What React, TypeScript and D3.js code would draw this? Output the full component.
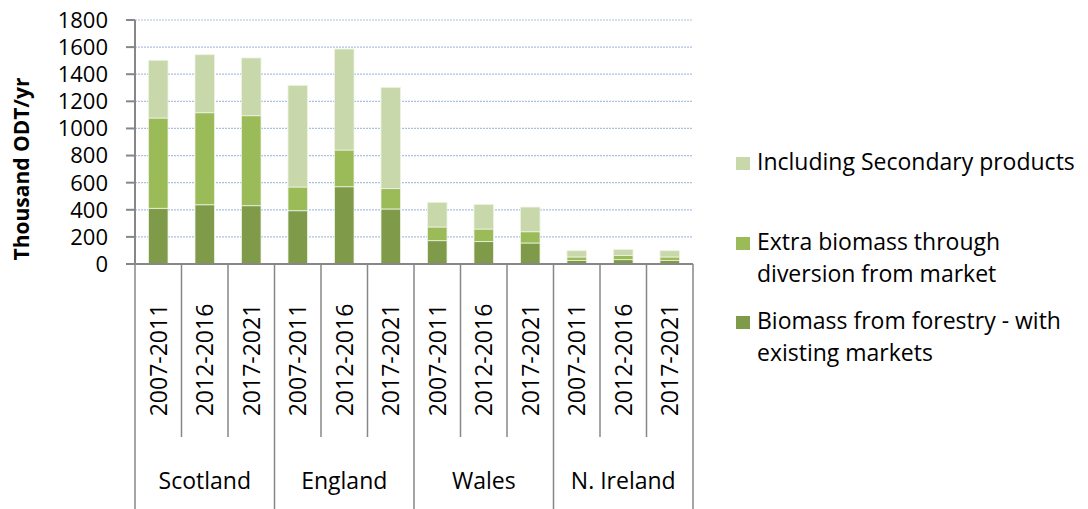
import React from "react";
import * as d3 from "d3";

const regions = ["Scotland", "England", "Wales", "N. Ireland"];
const periods = ["2007-2011", "2012-2016", "2017-2021"];
// values per bar, ordered region by region, period by period
const existingMarkets = [411, 437, 430, 393, 570, 406, 172, 165, 155, 25, 32, 25];
const extraDiversion = [666, 679, 664, 175, 271, 150, 101, 93, 83, 27, 32, 27];
const secondaryProducts = [426, 428, 426, 750, 745, 747, 182, 182, 182, 46, 44, 46];
const yTicks = [0, 200, 400, 600, 800, 1000, 1200, 1400, 1600, 1800];

const seriesKeys = ["existing", "extra", "secondary"];
const seriesColors: Record<string, string> = {
  existing: "#7F9A48",
  extra: "#9BBB59",
  secondary: "#C8D8AB",
};
const legendItems = [
  { key: "secondary", lines: ["Including Secondary products"] },
  { key: "extra", lines: ["Extra biomass through", "diversion from market"] },
  { key: "existing", lines: ["Biomass from forestry - with", "existing markets"] },
];

const FONT = "'Open Sans', 'DejaVu Sans', sans-serif";

export default function App() {
  const W = 1088, H = 509;
  const left = 135, right = 693, top = 20, bottom = 264;

  const rows = regions.flatMap((r, ri) =>
    periods.map((p, pi) => {
      const i = ri * periods.length + pi;
      return {
        id: `${r}|${p}`,
        region: r,
        period: p,
        existing: existingMarkets[i],
        extra: extraDiversion[i],
        secondary: secondaryProducts[i],
      };
    })
  );

  const x = d3
    .scaleBand<string>()
    .domain(rows.map((d) => d.id))
    .range([left, right])
    .paddingInner(0.58)
    .paddingOuter(0.29);
  const step = x.step();
  const y = d3.scaleLinear().domain([0, 1800]).range([bottom, top]);

  const stacked = d3.stack<any>().keys(seriesKeys)(rows);

  const axisColor = "#878787";

  const groupBounds = regions.map((r, ri) => {
    const first = rows[ri * periods.length];
    const last = rows[ri * periods.length + periods.length - 1];
    const x0 = (x(first.id) as number) - (step - x.bandwidth()) / 2;
    const x1 = (x(last.id) as number) + x.bandwidth() + (step - x.bandwidth()) / 2;
    return { region: r, x0, x1 };
  });

  return (
    <svg
      width={W}
      height={H}
      style={{ position: "absolute", left: 0, top: 0, background: "#fff" }}
      fontFamily={FONT}
    >
      {/* gridlines */}
      {yTicks
        .filter((t) => t > 0)
        .map((t) => (
          <line
            key={`g${t}`}
            x1={left}
            x2={right}
            y1={y(t)}
            y2={y(t)}
            stroke="#A9C0DF"
            strokeWidth={1.2}
            strokeDasharray="2 1"
          />
        ))}

      {/* bars */}
      {stacked.map((s) => (
        <g key={s.key} fill={seriesColors[s.key]}>
          {s.map((d: any) => (
            <rect
              key={d.data.id}
              x={x(d.data.id)}
              width={x.bandwidth()}
              y={y(d[1])}
              height={y(d[0]) - y(d[1])}
              stroke="#EEF3E4"
              strokeWidth={0.8}
            />
          ))}
        </g>
      ))}

      {/* y axis */}
      <line x1={left} x2={left} y1={top} y2={bottom} stroke={axisColor} strokeWidth={2} />
      {yTicks.map((t) => (
        <g key={`t${t}`}>
          <line x1={left - 9} x2={left} y1={y(t)} y2={y(t)} stroke={axisColor} strokeWidth={2} />
          <text x={108} y={y(t)} dy="0.36em" textAnchor="end" fontSize={22} fill="#000">
            {t}
          </text>
        </g>
      ))}
      <text
        transform={`translate(29,169) rotate(-90)`}
        textAnchor="middle"
        fontSize={21}
        fontWeight="bold"
        fill="#000"
      >
        Thousand ODT/yr
      </text>

      {/* x axis */}
      <line x1={left - 9} x2={right} y1={bottom} y2={bottom} stroke={axisColor} strokeWidth={2} />
      {rows.map((d, i) => {
        const bx = (x(d.id) as number) - (step - x.bandwidth()) / 2;
        const isGroup = i % periods.length === 0;
        return (
          <line
            key={`xt${i}`}
            x1={bx}
            x2={bx}
            y1={bottom}
            y2={isGroup ? H : 437}
            stroke={axisColor}
            strokeWidth={1.5}
          />
        );
      })}
      <line x1={right} x2={right} y1={bottom} y2={H} stroke={axisColor} strokeWidth={1.5} />
      {rows.map((d) => {
        const cx = (x(d.id) as number) + x.bandwidth() / 2;
        return (
          <text
            key={`yl${d.id}`}
            transform={`translate(${cx},360) rotate(-90)`}
            dy="0.36em"
            textAnchor="middle"
            fontSize={23}
            fill="#000"
          >
            {d.period}
          </text>
        );
      })}
      {groupBounds.map((g) => (
        <text
          key={`gl${g.region}`}
          x={(g.x0 + g.x1) / 2}
          y={489}
          textAnchor="middle"
          fontSize={23}
          fill="#000"
        >
          {g.region}
        </text>
      ))}

      {/* legend */}
      {legendItems.map((item, i) => {
        const baselines = [170, 250, 329];
        const b = baselines[i];
        return (
          <g key={`lg${item.key}`}>
            <rect x={736} y={b - 13} width={14} height={13} fill={seriesColors[item.key]} />
            {item.lines.map((ln, li) => (
              <text key={li} x={757} y={b + li * 31.5} fontSize={23} fill="#000">
                {ln}
              </text>
            ))}
          </g>
        );
      })}
    </svg>
  );
}
